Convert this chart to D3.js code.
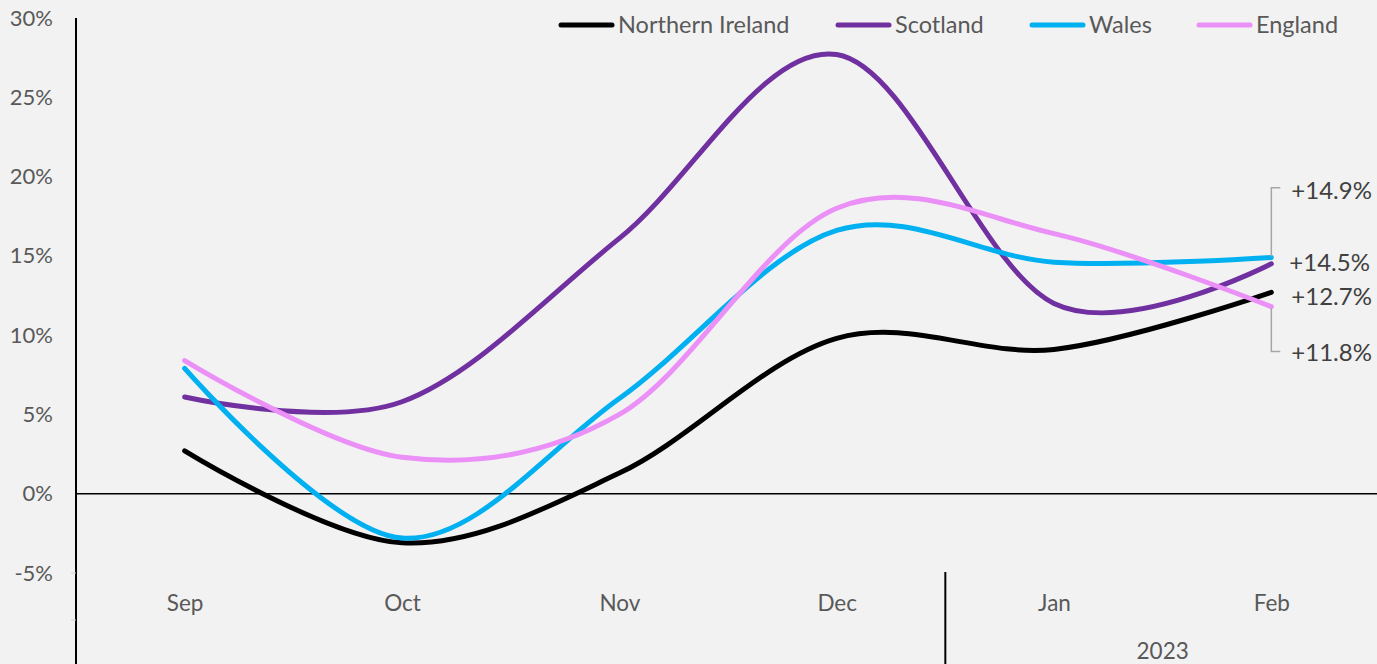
<!DOCTYPE html>
<html>
<head>
<meta charset="utf-8">
<script src="https://cdn.jsdelivr.net/npm/d3@7"></script>
<style>
  html, body { margin: 0; padding: 0; background: #f2f2f2; }
  svg { display: block; font-family: Lato, "Open Sans", sans-serif; }
</style>
</head>
<body>
<svg id="chart" width="1377" height="664"></svg>
<script>
// ---- data ----
const months = ["Sep", "Oct", "Nov", "Dec", "Jan", "Feb"];
const yearGroups = [{ label: "", from: "Sep", to: "Dec" }, { label: "2023", from: "Jan", to: "Feb" }];
const seriesNames = ["Northern Ireland", "Scotland", "Wales", "England"];
const northernIreland = [2.7, -3.1, 1.3, 9.8, 9.1, 12.7];
const scotland = [6.1, 5.8, 16.1, 27.7, 12.0, 14.5];
const wales = [7.9, -2.8, 6.0, 16.6, 14.6, 14.9];
const england = [8.4, 2.3, 5.0, 18.0, 16.4, 11.8];
const yTicks = [-5, 0, 5, 10, 15, 20, 25, 30];
const endLabels = ["+12.7%", "+14.5%", "+14.9%", "+11.8%"];
const endLabelPos = [12.4, 14.6, 19.1, 8.9]; // value position of the end labels
const colors = ["#000000", "#7030a0", "#00b0f0", "#ea90f6"];

const series = [northernIreland, scotland, wales, england];

// ---- layout ----
const svg = d3.select("#chart");
const W = 1377, H = 664;
const mLeft = 76, mRight = 1380, mTop = 18, mBottom = 573;

const x = d3.scalePoint().domain(months).range([mLeft, mRight]).padding(0.5);
const y = d3.scaleLinear().domain([-5, 30]).range([mBottom, mTop]);
const step = x.step();

svg.append("rect").attr("width", W).attr("height", H).attr("fill", "#f2f2f2");

// y tick labels
const yAxis = d3.axisLeft(y).tickValues(yTicks).tickFormat(d => d + "%").tickSize(0).tickPadding(23);
const gy = svg.append("g").attr("transform", `translate(${mLeft},0)`).call(yAxis);
gy.select(".domain").remove();
gy.selectAll("text").attr("fill", "#595959").style("font-size", "22px").style("font-family", "Lato, sans-serif");

// zero line
svg.append("line").attr("x1", mLeft).attr("x2", W).attr("y1", y(0)).attr("y2", y(0))
  .attr("stroke", "#000").attr("stroke-width", 1.5);

// y axis line
svg.append("line").attr("x1", mLeft).attr("x2", mLeft).attr("y1", mTop).attr("y2", H)
  .attr("stroke", "#000").attr("stroke-width", 2);

// faint ticks at bottom of value axis
[mBottom, mBottom + 47].forEach(v => {
  svg.append("line").attr("x1", mLeft - 5).attr("x2", mLeft).attr("y1", v).attr("y2", v)
    .attr("stroke", "#d0d0d0").attr("stroke-width", 1);
});

// category labels
const xAxis = d3.axisBottom(x).tickSize(0).tickPadding(0);
const gx = svg.append("g").attr("transform", `translate(0,${mBottom})`).call(xAxis);
gx.select(".domain").remove();
gx.selectAll("text").attr("fill", "#595959").style("font-size", "22.5px")
  .style("font-family", "Lato, sans-serif").attr("dy", null).attr("y", 38);

// year group separator and label
yearGroups.forEach((g, i) => {
  const x0 = x(g.from) - step / 2;
  if (i > 0) {
    svg.append("line").attr("x1", x0).attr("x2", x0).attr("y1", mBottom - 1).attr("y2", H)
      .attr("stroke", "#000").attr("stroke-width", 2);
  }
  if (g.label) {
    svg.append("text").attr("x", (x(g.from) + x(g.to)) / 2).attr("y", mBottom + 86)
      .attr("text-anchor", "middle").attr("fill", "#595959").style("font-size", "22.5px")
      .text(g.label);
  }
});

// lines
const line = d3.line().x((d, i) => x(months[i])).y(d => y(d)).curve(d3.curveCardinal.tension(0));
series.forEach((s, i) => {
  svg.append("path").datum(s).attr("d", line).attr("fill", "none")
    .attr("stroke", colors[i]).attr("stroke-width", 5).attr("stroke-linecap", "round");
});

// end brackets (Wales above, England below)
const lastX = x(months[months.length - 1]);
const bracket = d3.line();
svg.append("path").attr("d", bracket([[lastX + 9, y(endLabelPos[2]) - 3], [lastX, y(endLabelPos[2]) - 3], [lastX, y(wales[5]) - 1]]))
  .attr("fill", "none").attr("stroke", "#a6a6a6").attr("stroke-width", 1.5);
svg.append("path").attr("d", bracket([[lastX, y(england[5]) + 2], [lastX, y(endLabelPos[3]) - 1], [lastX + 9, y(endLabelPos[3]) - 1]]))
  .attr("fill", "none").attr("stroke", "#a6a6a6").attr("stroke-width", 1.5);

// end labels
const labelX = [lastX + 20, lastX + 18, lastX + 20, lastX + 20];
endLabels.forEach((t, i) => {
  svg.append("text").attr("x", labelX[i]).attr("y", y(endLabelPos[i])).attr("dy", "0.35em")
    .attr("fill", "#404040").style("font-size", "24px").text(t);
});

// legend
const legendX = [559, 836, 1030, 1197];
seriesNames.forEach((n, i) => {
  const g = svg.append("g").attr("transform", `translate(${legendX[i]},25)`);
  g.append("line").attr("x1", 2).attr("x2", 53).attr("y1", 0).attr("y2", 0)
    .attr("stroke", colors[i]).attr("stroke-width", 5).attr("stroke-linecap", "round");
  g.append("text").attr("x", 59).attr("y", 0).attr("dy", "0.35em").attr("fill", "#595959")
    .style("font-size", "23.5px").text(n);
});
</script>
</body>
</html>
